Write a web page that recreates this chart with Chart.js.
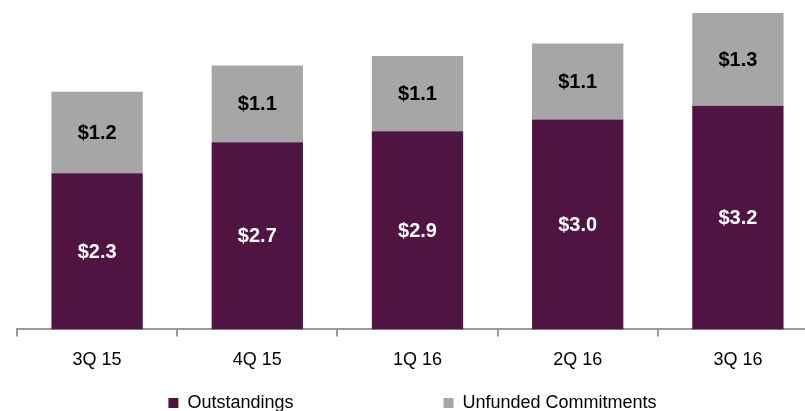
<!DOCTYPE html>
<html>
<head>
<meta charset="utf-8">
<script src="https://cdn.jsdelivr.net/npm/chart.js@4.4.1/dist/chart.umd.min.js"></script>
<style>
  html, body { margin: 0; padding: 0; background: #fff; overflow: hidden; }
  #wrap { width: 818px; height: 422px; }
</style>
</head>
<body>
<div id="wrap"><canvas id="chart1"></canvas></div>
<script>
// data ($ billions)
const quarters = ['3Q 15', '4Q 15', '1Q 16', '2Q 16', '3Q 16'];
const outstandings = [2.26, 2.71, 2.87, 3.04, 3.24];
const unfunded = [1.18, 1.11, 1.09, 1.10, 1.34];

const PURPLE = '#501442';
const GREY = '#a6a6a6';
const FONT = 'Arial, "Liberation Sans", sans-serif';

// writes the $ value in the middle of each bar segment
const barLabels = {
  id: 'barLabels',
  afterDatasetsDraw(chart) {
    const ctx = chart.ctx;
    ctx.save();
    ctx.font = 'bold 20px ' + FONT;
    ctx.textAlign = 'center';
    ctx.textBaseline = 'middle';
    chart.data.datasets.forEach((ds, i) => {
      const meta = chart.getDatasetMeta(i);
      ctx.fillStyle = i === 0 ? '#ffffff' : '#000000';
      meta.data.forEach((bar, j) => {
        const y = (bar.y + bar.base) / 2;
        ctx.fillText('$' + ds.data[j].toFixed(1), bar.x, y + 1);
      });
    });
    ctx.restore();
  }
};

const ctx1 = document.getElementById('chart1').getContext('2d');
const chart = new Chart(ctx1, {
  type: 'bar',
  data: {
    labels: quarters,
    datasets: [
      {
        label: 'Outstandings',
        data: outstandings,
        backgroundColor: PURPLE,
        borderWidth: 0,
        categoryPercentage: 1,
        barPercentage: 0.57
      },
      {
        label: 'Unfunded Commitments',
        data: unfunded,
        backgroundColor: GREY,
        borderWidth: 0,
        categoryPercentage: 1,
        barPercentage: 0.57
      }
    ]
  },
  options: {
    responsive: true,
    maintainAspectRatio: false,
    animation: false,
    layout: { padding: { left: 17, right: 0, top: 0, bottom: 0 } },
    scales: {
      x: {
        stacked: true,
        border: { display: true, color: '#999999', width: 2 },
        grid: {
          display: true,
          offset: true,
          drawOnChartArea: false,
          drawTicks: true,
          tickLength: 7,
          color: '#999999',
          lineWidth: 2
        },
        ticks: {
          color: '#000000',
          padding: 13,
          font: { family: FONT, size: 18 }
        }
      },
      y: {
        stacked: true,
        display: false,
        min: 0,
        max: 4.77
      }
    },
    plugins: {
      legend: {
        display: true,
        position: 'bottom',
        labels: {
          boxWidth: 10,
          boxHeight: 10,
          padding: 10,
          color: '#000000',
          font: { family: FONT, size: 18 },
          generateLabels(c) {
            const items = Chart.defaults.plugins.legend.labels.generateLabels(c);
            // Excel spreads the two entries far apart
            items[0].text = items[0].text + '\u00a0'.repeat(28);
            items[1].text = items[1].text + '\u00a0'.repeat(2);
            items.forEach(it => { it.lineWidth = 0; });
            return items;
          }
        }
      },
      tooltip: { enabled: false }
    }
  },
  plugins: [barLabels]
});
</script>
</body>
</html>
